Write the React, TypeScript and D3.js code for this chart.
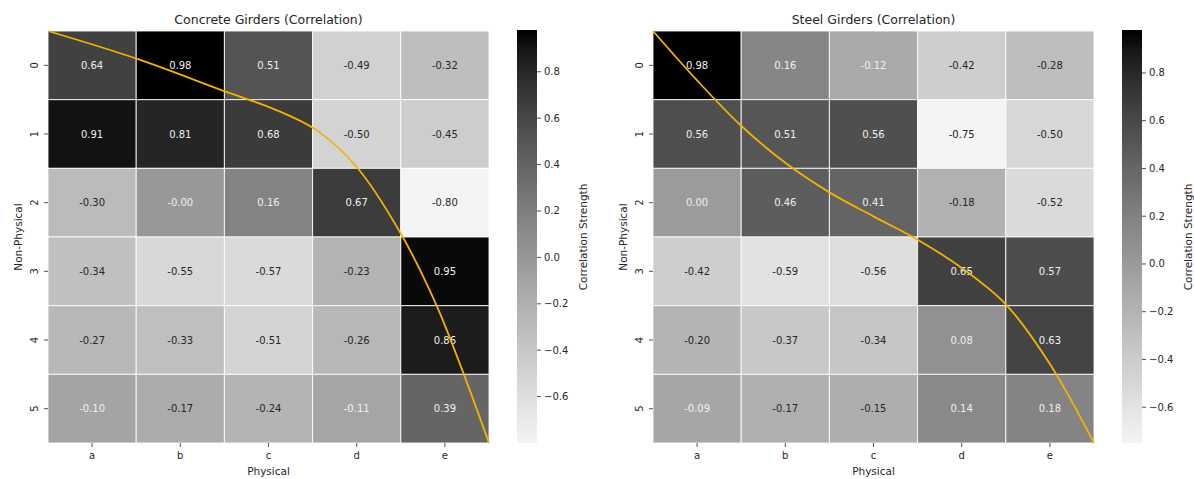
import React from 'react'
import * as d3 from 'd3'

const physical = ['a', 'b', 'c', 'd', 'e']
const nonPhysical = ['0', '1', '2', '3', '4', '5']

const concreteValues = [
  [0.64, 0.98, 0.51, -0.49, -0.32],
  [0.91, 0.81, 0.68, -0.5, -0.45],
  [-0.3, -0.004, 0.16, 0.67, -0.8],
  [-0.34, -0.55, -0.57, -0.23, 0.95],
  [-0.27, -0.33, -0.51, -0.26, 0.86],
  [-0.1, -0.17, -0.24, -0.11, 0.39]
]

const steelValues = [
  [0.98, 0.16, -0.12, -0.42, -0.28],
  [0.56, 0.51, 0.56, -0.75, -0.5],
  [0.0, 0.46, 0.41, -0.18, -0.52],
  [-0.42, -0.59, -0.56, 0.65, 0.57],
  [-0.2, -0.37, -0.34, 0.08, 0.63],
  [-0.09, -0.17, -0.15, 0.14, 0.18]
]

// overlay curves, in cell units (column, row)
const concreteCurve: [number, number][] = [
  [0, 0], [1.02, 0.41], [2.03, 0.89], [2.55, 1.13], [3.04, 1.44], [3.5, 1.98],
  [4.0, 2.95], [4.4, 3.98], [4.7, 4.95], [5, 6]
]
const steelCurve: [number, number][] = [
  [0, 0], [0.5, 0.72], [1.0, 1.38], [1.5, 1.92], [2.0, 2.35], [2.5, 2.7],
  [3.0, 3.04], [3.5, 3.45], [4.0, 3.98], [4.5, 4.85], [5, 6]
]

const colorbarTicks = [0.8, 0.6, 0.4, 0.2, 0.0, -0.2, -0.4, -0.6]

const FONT = 'DejaVu Sans, sans-serif'
const TOP = 31
const BOTTOM = 443
const MAP_W = 441

function grayFor(t: number) {
  const g = Math.round(244 * Math.pow(1 - Math.max(0, Math.min(1, t)), 0.8))
  return d3.rgb(g, g, g)
}

function luminance(c: d3.RGBColor) {
  const f = (v: number) => {
    const s = v / 255
    return s <= 0.03928 ? s / 12.92 : Math.pow((s + 0.055) / 1.055, 2.4)
  }
  return 0.2126 * f(c.r) + 0.7152 * f(c.g) + 0.0722 * f(c.b)
}

function Panel({ id, title, values, curve, x0 }: { id: string; title: string; values: number[][]; curve: [number, number][]; x0: number }) {
  const flat = values.flat()
  const [vmin, vmax] = d3.extent(flat) as [number, number]
  const norm = d3.scaleLinear().domain([vmin, vmax]).range([0, 1])
  const x = d3.scaleBand().domain(physical).range([x0, x0 + MAP_W])
  const y = d3.scaleBand().domain(nonPhysical).range([TOP, BOTTOM])
  const cx = d3.scaleLinear().domain([0, physical.length]).range([x0, x0 + MAP_W])
  const cy = d3.scaleLinear().domain([0, nonPhysical.length]).range([TOP, BOTTOM])
  const line = d3.line<[number, number]>().x(d => cx(d[0])).y(d => cy(d[1])).curve(d3.curveCatmullRom.alpha(0.5))

  const cbX = x0 + 469
  const cbW = 20
  const cbScale = d3.scaleLinear().domain([vmin, vmax]).range([BOTTOM, TOP - 1])
  const stops = d3.range(0, 1.0001, 0.05)
  const fmt = d3.format('.1f')

  return (
    <g>
      <defs>
        <linearGradient id={`grad-${id}`} x1="0" y1="1" x2="0" y2="0">
          {stops.map(s => (
            <stop key={s} offset={s} stopColor={grayFor(s).formatHex()} />
          ))}
        </linearGradient>
      </defs>
      <text x={x0 + MAP_W / 2} y={24} textAnchor="middle" fontSize={12.5} fill="#262626">{title}</text>
      {values.map((row, ri) => row.map((v, ci) => {
        const c = grayFor(norm(v))
        const textColor = luminance(c) < 0.408 ? '#f0f0f0' : '#262626'
        const px = x(physical[ci])!
        const py = y(nonPhysical[ri])!
        return (
          <g key={`${ri}-${ci}`}>
            <rect x={px} y={py} width={x.bandwidth()} height={y.bandwidth()} fill={c.formatHex()} stroke="#ffffff" strokeOpacity={0.85} strokeWidth={1} />
            <text x={px + x.bandwidth() / 2} y={py + y.bandwidth() / 2} dy="0.35em" textAnchor="middle" fontSize={10} fill={textColor}>{v.toFixed(2)}</text>
          </g>
        )
      }))}
      <path d={line(curve) || ''} fill="none" stroke="#f2b300" strokeWidth={1.8} />
      {nonPhysical.map(r => {
        const yy = y(r)! + y.bandwidth() / 2
        return (
          <g key={r}>
            <line x1={x0 - 4} x2={x0} y1={yy} y2={yy} stroke="#262626" strokeWidth={0.8} />
            <text transform={`translate(${x0 - 14},${yy}) rotate(-90)`} textAnchor="middle" dy="0.35em" fontSize={10} fill="#262626">{r}</text>
          </g>
        )
      })}
      {physical.map(p => {
        const xx = x(p)! + x.bandwidth() / 2
        return (
          <g key={p}>
            <line x1={xx} x2={xx} y1={BOTTOM} y2={BOTTOM + 4} stroke="#262626" strokeWidth={0.8} />
            <text x={xx} y={BOTTOM + 16} textAnchor="middle" fontSize={10} fill="#262626">{p}</text>
          </g>
        )
      })}
      <text x={x0 + MAP_W / 2} y={475} textAnchor="middle" fontSize={10.5} fill="#262626">Physical</text>
      <text transform={`translate(${x0 - 30},${(TOP + BOTTOM) / 2}) rotate(-90)`} textAnchor="middle" dy="0.35em" fontSize={10.5} fill="#262626">Non-Physical</text>
      <rect x={cbX} y={TOP - 1} width={cbW} height={BOTTOM - TOP + 1} fill={`url(#grad-${id})`} />
      {colorbarTicks.map(t => (
        <g key={t}>
          <line x1={cbX + cbW} x2={cbX + cbW + 4} y1={cbScale(t)} y2={cbScale(t)} stroke="#262626" strokeWidth={0.8} />
          <text x={cbX + cbW + 7} y={cbScale(t)} dy="0.35em" fontSize={10} fill="#262626">{fmt(t)}</text>
        </g>
      ))}
      <text transform={`translate(${cbX + 66},${(TOP + BOTTOM) / 2}) rotate(-90)`} textAnchor="middle" dy="0.35em" fontSize={10.5} fill="#262626">Correlation Strength</text>
    </g>
  )
}

export default function App() {
  return (
    <svg width={1194} height={479} style={{ position: 'absolute', left: 0, top: 0, background: '#ffffff' }} fontFamily={FONT}>
      <rect width={1194} height={479} fill="#ffffff" />
      <Panel id="concrete" title="Concrete Girders (Correlation)" values={concreteValues} curve={concreteCurve} x0={48} />
      <Panel id="steel" title="Steel Girders (Correlation)" values={steelValues} curve={steelCurve} x0={653} />
    </svg>
  )
}
